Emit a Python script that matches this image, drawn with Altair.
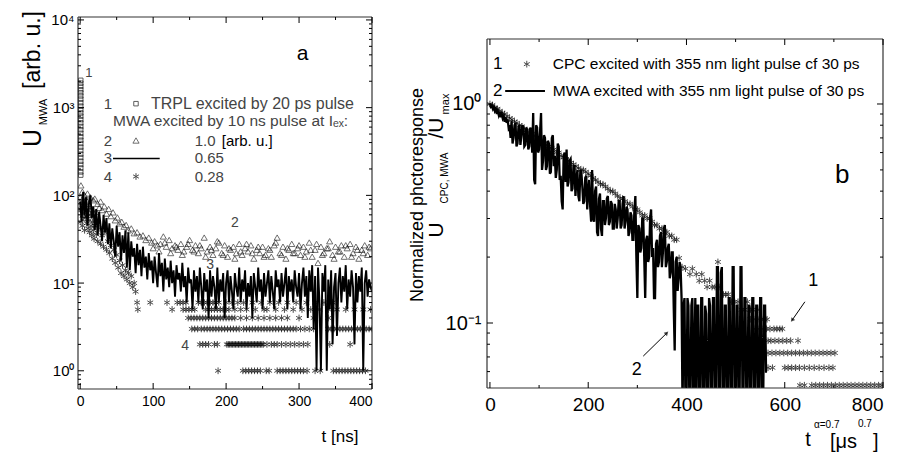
import altair as alt
import pandas as pd

FONT = "Liberation Sans"
INK = "black"

# ======================= DATA: panel a =======================
# 1: TRPL (squares), column at t ~ 0
a_sq_t = [0.8, 0.8, 0.8, 0.8, 0.8, 0.8, 0.8, 0.8, 0.8, 0.8, 0.8, 0.8, 0.8, 0.8, 0.8,
          0.8, 0.8, 0.8, 0.8, 0.8, 0.8, 0.8, 0.8, 0.8, 0.8, 0.8, 0.8, 0.8, 0.8]
a_sq_u = [2050, 1900, 1750, 1600, 1480, 1360, 1250, 1140, 1040, 950, 870, 800, 730, 670, 610,
          560, 510, 465, 425, 390, 355, 325, 295, 270, 245, 225, 205, 185, 170]

# 2: MWA, I=1.0 (triangles)
a_tri_t = [0, 1, 2, 3, 4, 5, 6, 7, 8, 9, 10,
           12, 14, 16, 18, 20, 22, 24, 26, 28, 30,
           33, 36, 39, 42, 45, 48, 51, 54, 57, 60, 63, 66,
           70, 74, 78, 82, 86, 90, 94, 98, 102, 106,
           110, 114, 118, 122, 126, 130, 134, 138, 142, 146,
           150, 154, 158, 162, 166, 170, 174, 178, 182, 186,
           190, 194, 198, 202, 206, 210, 214, 218, 222, 226,
           230, 234, 238, 242, 246, 250, 254, 258, 262, 266,
           270, 274, 278, 282, 286, 290, 294, 298, 302, 306,
           310, 314, 318, 322, 326, 330, 334, 338, 342, 346,
           350, 354, 358, 362, 366, 370, 374, 378, 382, 386,
           390, 394, 398]
a_tri_u = [95, 130, 70, 110, 60, 85, 100, 55, 90, 75, 105,
           80, 95, 70, 88, 92, 65, 80, 72, 85, 68,
           75, 62, 70, 58, 64, 52, 56, 48, 50, 44, 46, 40,
           42, 37, 38, 34, 35, 31, 33, 29, 30, 27,
           28, 34, 26, 31, 25, 27, 24, 28, 23, 26,
           31, 24, 27, 22, 25, 33, 23, 26, 21, 25,
           29, 22, 27, 20, 24, 26, 22, 28, 21, 25,
           23, 27, 19, 24, 22, 26, 21, 25, 20, 27,
           33, 22, 26, 19, 24, 28, 22, 25, 21, 26,
           23, 29, 20, 24, 17, 26, 22, 25, 30, 21,
           26, 23, 27, 20, 25, 28, 22, 26, 19, 24,
           27, 21, 25]
a_tri2_t = [100, 108, 116, 124, 132, 140, 148, 156, 164, 172, 180, 188, 196, 204, 212, 220, 228, 236, 244,
            252, 260, 268, 276, 284, 292, 300, 308, 316, 324, 332, 340, 348, 356, 364, 372, 380, 388, 396]
a_tri2_u = [25, 23, 29, 22, 26, 21, 28, 23, 27, 20, 24, 30, 21, 25, 19, 23, 28, 22, 26,
            20, 24, 29, 21, 25, 22, 27, 20, 24, 28, 21, 25, 19, 23, 27, 20, 24, 22, 26]

# 3: MWA, I=0.65 (line)
a_line_t = [0, 2, 4, 6, 8, 10, 12, 14, 16, 18,
            20, 22, 24, 26, 28, 30, 32, 34, 36, 38,
            40, 42, 44, 46, 48, 50, 52, 54, 56, 58,
            60, 62, 64, 66, 68, 70, 72, 74, 76, 78,
            80, 82, 84, 86, 88, 90, 92, 94, 96, 98,
            100, 102, 104, 106, 108, 110, 112, 114, 116, 118,
            120, 122, 124, 126, 128, 130, 132, 134, 136, 138,
            140, 142, 144, 146, 148, 150, 152, 154, 156, 158,
            160, 162, 164, 166, 168, 170, 172, 174, 176, 178,
            180, 182, 184, 186, 188, 190, 192, 194, 196, 198,
            200, 202, 204, 206, 208, 210, 212, 214, 216, 218,
            220, 222, 224, 226, 228, 230, 232, 234, 236, 238,
            240, 242, 244, 246, 248, 250, 252, 254, 256, 258,
            260, 262, 264, 266, 268, 270, 272, 274, 276, 278,
            280, 282, 284, 286, 288, 290, 292, 294, 296, 298,
            300, 302, 304, 306, 308, 310, 312, 314, 316, 318,
            320, 322, 324, 326, 328, 330, 332, 334, 336, 338,
            340, 342, 344, 346, 348, 350, 352, 354, 356, 358,
            360, 362, 364, 366, 368, 370, 372, 374, 376, 378,
            380, 382, 384, 386, 388, 390, 392, 394, 396, 398,
            400]
a_line_u = [85, 50, 110, 60, 95, 45, 80, 100, 55, 75,
            40, 70, 35, 65, 45, 30, 60, 38, 55, 28,
            48, 25, 42, 30, 20, 45, 26, 38, 18, 35,
            22, 40, 15, 38, 14, 30, 20, 25, 13, 28,
            16, 24, 12, 26, 15, 20, 11, 22, 14, 18,
            10, 20, 13, 9, 22, 12, 17, 8, 19, 11,
            15, 9, 18, 10, 14, 7, 16, 11, 13, 8,
            17, 9, 12, 6, 15, 10, 11, 5, 14, 8,
            12, 6, 15, 9, 5, 13, 8, 11, 4, 14,
            7, 12, 9, 5, 15, 6, 11, 8, 13, 4,
            10, 14, 6, 12, 8, 5, 13, 9, 7, 15,
            6, 11, 8, 14, 5, 10, 7, 12, 4, 13,
            9, 6, 15, 8, 11, 5, 13, 7, 10, 14,
            6, 12, 8, 5, 14, 9, 11, 6, 13, 7,
            10, 15, 5, 12, 8, 11, 6, 14, 9, 7,
            13, 5, 10, 15, 7, 12, 4, 14, 8, 16,
            3, 12, 1, 15, 6, 1, 13, 8, 16, 1,
            11, 5, 14, 2, 9, 13, 2.5, 10, 15, 6,
            12, 8, 16, 5, 11, 7, 14, 9, 2, 13,
            6, 12, 8, 15, 1, 10, 14, 7, 11, 9,
            8]

# 4: MWA, I=0.28 (stars): early decay part
a_star_t = [0, 1, 2, 3, 4, 5, 6, 7, 8, 9, 10, 11, 12, 13, 14, 15, 16, 17, 18, 19, 20,
            22, 24, 26, 28, 30, 32, 34, 36, 38, 40, 42, 44, 46, 48, 50, 52, 54, 56, 58,
            60, 62, 64, 66, 68, 70, 72, 74, 76, 78, 79, 96, 119, 126]
a_star_u = [70, 50, 85, 45, 60, 75, 40, 55, 65, 48, 58, 42, 52, 38, 60, 45, 35, 50, 40, 32, 45,
            36, 30, 42, 28, 35, 26, 38, 24, 30, 22, 27, 19, 24, 17, 21, 15, 18, 13, 16,
            12, 14, 11, 13, 10, 12, 9, 10, 8, 6, 5, 6, 6, 5]
# digitised tail: times of the stars on each signal level
a_lvl_values = [6, 5, 4, 3, 2, 1]
a_lvl6_t = [133, 137, 141, 145, 162, 166, 170, 174, 178, 182, 186, 190, 200, 208, 216, 224, 236, 248,
            260, 272, 284, 296, 310, 322, 334, 346]
a_lvl5_t = [141, 145, 149, 153, 157, 172, 176, 180, 184, 188, 192, 196, 200, 204, 212, 220, 228, 240,
            252, 256, 268, 280, 292, 304, 316, 328, 340, 352, 364, 376, 388, 398]
a_lvl4_t = [148, 152, 156, 160, 164, 168, 172, 176, 180, 184, 188, 192, 196, 200, 204, 208, 212, 220,
            228, 236, 244, 252, 260, 268, 276, 284, 300, 320, 340]
a_lvl3_t = [153, 157, 161, 166, 170, 174, 178, 182, 186, 190, 194, 198, 202, 206, 210, 214, 218, 224,
            228, 232, 236, 240, 244, 248, 252, 256, 260, 264, 268, 272, 276, 280, 284, 288, 292, 296,
            302, 308, 314, 320, 340, 344, 348, 352, 356, 360, 364, 368, 372, 376, 380, 384, 388, 392,
            396, 400]
a_lvl2_t = [164, 168, 172, 176, 184, 188, 201, 203, 205, 207, 209, 211, 213, 215, 217, 219, 221, 223,
            225, 227, 229, 231, 233, 235, 237, 239, 241, 243, 245, 247, 249, 251, 256, 262, 266, 270,
            276, 282, 288, 294, 300, 306, 312, 342, 370]
a_lvl1_t = [189, 223, 227, 231, 235, 239, 243, 247, 255, 259, 270, 274, 278, 282, 286, 290, 294, 298,
            302, 306, 311, 322, 329, 347, 351, 355, 359, 363, 367, 371, 375, 379, 383, 387, 391]

a_xmaj = [0, 100, 200, 300, 400]
a_xmin = [50, 150, 250, 350]
a_ymaj = [1, 10, 100, 1000, 10000]
a_ymin = [0.7, 0.8, 0.9, 2, 3, 4, 5, 6, 7, 8, 9, 20, 30, 40, 50, 60, 70, 80, 90,
          200, 300, 400, 500, 600, 700, 800, 900, 2000, 3000, 4000, 5000, 6000, 7000, 8000, 9000]

# ======================= DATA: panel b =======================
# 1: CPC (stars)
b_cpc_x = [0, 5, 10, 15, 20, 25, 30, 35, 40, 45, 50, 55, 60, 65, 70, 75, 80, 85, 90, 95,
           100, 105, 110, 115, 120, 125, 130, 135, 140, 145, 150, 155, 160, 165, 170, 175, 180, 185, 190, 195,
           200, 205, 210, 215, 220, 225, 230, 235, 240, 245, 250, 255, 260, 265, 270, 275, 280, 285, 290, 295,
           300, 305, 310, 315, 320, 325, 330, 335, 340, 345, 350, 355, 360, 365, 370, 375, 380]
b_cpc_y = [1.0, 0.99, 0.96, 0.95, 0.93, 0.91, 0.9, 0.88, 0.86, 0.85, 0.83, 0.82, 0.8, 0.79, 0.77, 0.76, 0.74, 0.73, 0.72, 0.7,
           0.69, 0.68, 0.66, 0.65, 0.64, 0.63, 0.62, 0.6, 0.6, 0.58, 0.57, 0.56, 0.55, 0.54, 0.53, 0.52, 0.51, 0.5, 0.5, 0.49,
           0.48, 0.47, 0.46, 0.45, 0.44, 0.43, 0.43, 0.42, 0.41, 0.4, 0.4, 0.39, 0.38, 0.37, 0.37, 0.36, 0.35, 0.35, 0.34, 0.33,
           0.33, 0.32, 0.31, 0.31, 0.3, 0.3, 0.29, 0.28, 0.28, 0.27, 0.27, 0.26, 0.26, 0.25, 0.25, 0.24, 0.24]
b_cpc_tail_x = [385, 391, 398, 407, 412, 420, 426, 431, 437, 442, 447, 452, 458, 464, 468, 475, 480, 485,
                492, 498, 505, 512, 518, 524, 530, 535, 545, 530, 537, 540, 548, 553, 558, 564,
                548, 556, 563, 570, 578, 584, 590, 595,
                566, 572, 580, 588, 596, 604, 612, 627,
                566, 574, 582, 590, 598, 606, 614, 622, 630, 638, 646, 654, 662, 670, 678, 686, 694, 702,
                566, 575, 600, 607, 614, 622, 630, 640, 650, 660, 670, 680, 690, 698,
                631, 640, 655, 663, 671, 679, 687, 695, 703, 711, 719, 727, 735, 743, 751, 759, 767, 775,
                783, 791, 798]
b_cpc_tail_y = [0.198, 0.18, 0.177, 0.167, 0.177, 0.167, 0.156, 0.167, 0.156, 0.146, 0.156, 0.146, 0.146, 0.19,
                0.146, 0.135, 0.135, 0.135, 0.125, 0.125, 0.125, 0.115, 0.115, 0.125, 0.115, 0.115, 0.115,
                0.104, 0.104, 0.094, 0.104, 0.104, 0.104, 0.104,
                0.094, 0.094, 0.094, 0.094, 0.094, 0.094, 0.094, 0.094,
                0.083, 0.083, 0.083, 0.083, 0.083, 0.083, 0.083, 0.083,
                0.073, 0.073, 0.073, 0.073, 0.073, 0.073, 0.073, 0.073, 0.073, 0.073, 0.073, 0.073, 0.073,
                0.073, 0.073, 0.073, 0.073, 0.073,
                0.0625, 0.0625, 0.0625, 0.0625, 0.0625, 0.0625, 0.0625, 0.0625, 0.0625, 0.0625, 0.0625,
                0.0625, 0.0625, 0.0625,
                0.052, 0.052, 0.052, 0.052, 0.052, 0.052, 0.052, 0.052, 0.052, 0.052, 0.052, 0.052, 0.052,
                0.052, 0.052, 0.052, 0.052, 0.052, 0.052, 0.052, 0.052]

# 2: MWA (line)
b_mwa_x = [0, 2, 4, 6, 8, 10, 12, 14, 16, 18, 20, 22, 24, 26, 28, 30, 32, 34, 36, 38,
           40, 42, 44, 46, 48, 50, 52, 54, 56, 58, 60, 62, 64, 66, 68, 70, 72, 74, 76, 78,
           80, 82, 84, 86, 88, 90, 92, 94, 96, 98, 100, 102, 104, 106, 108, 110, 112, 114, 116, 118,
           120, 122, 124, 126, 128, 130, 132, 134, 136, 138, 140, 142, 144, 146, 148, 150, 152, 154, 156, 158,
           160, 162, 164, 166, 168, 170, 172, 174, 176, 178, 180, 182, 184, 186, 188, 190, 192, 194, 196, 198,
           200, 202, 204, 206, 208, 210, 212, 214, 216, 218, 220, 222, 224, 226, 228, 230, 232, 234, 236, 238,
           240, 242, 244, 246, 248, 250, 252, 254, 256, 258, 260, 262, 264, 266, 268, 270, 272, 274, 276, 278,
           280, 282, 284, 286, 288, 290, 292, 294, 296, 298, 300, 302, 304, 306, 308, 310, 312, 314, 316, 318,
           320, 322, 324, 326, 328, 330, 332, 334, 336, 338, 340, 342, 344, 346, 348, 350, 352, 354, 356, 358,
           360, 362, 364, 366, 368, 370, 372, 374, 376, 378, 380, 382, 384, 386, 388, 390, 392, 394, 396, 398,
           400, 402, 404, 406, 408, 410, 412, 414, 416, 418, 420, 422, 424, 426, 428, 430, 432, 434, 436, 438,
           440, 442, 444, 446, 448, 450, 452, 454, 456, 458, 460, 462, 464, 466, 468, 470, 472, 474, 476, 478,
           480, 482, 484, 486, 488, 490, 492, 494, 496, 498, 500, 502, 504, 506, 508, 510, 512, 514, 516, 518,
           520, 522, 524, 526, 528, 530, 532, 534, 536, 538, 540, 542, 544, 546, 548, 550, 552, 554, 556, 558,
           560, 562, 564]
b_mwa_y = [1.0, 0.97, 0.98, 0.95, 0.97, 0.93, 0.95, 0.9, 0.93, 0.89,
           0.92, 0.87, 0.9, 0.86, 0.88, 0.83, 0.87, 0.82, 0.85, 0.78,
           0.8, 0.7, 0.84, 0.66, 0.7, 0.8, 0.82, 0.64, 0.66, 0.78,
           0.8, 0.65, 0.72, 0.8, 0.78, 0.64, 0.65, 0.78, 0.76, 0.62,
           0.64, 0.78, 0.75, 0.6, 0.91, 0.45, 0.43, 0.8, 0.78, 0.6,
           0.62, 0.75, 0.91, 0.5, 0.55, 0.72, 0.7, 0.5, 0.52, 0.68,
           0.66, 0.48, 0.49, 0.7, 0.72, 0.52, 0.58, 0.46, 0.5, 0.66,
           0.64, 0.45, 0.47, 0.36, 0.33, 0.58, 0.6, 0.44, 0.62, 0.42,
           0.44, 0.55, 0.56, 0.4, 0.41, 0.52, 0.52, 0.38, 0.45, 0.5,
           0.38, 0.36, 0.5, 0.49, 0.42, 0.35, 0.36, 0.46, 0.47, 0.33,
           0.4, 0.45, 0.34, 0.29, 0.5, 0.3, 0.29, 0.4, 0.42, 0.26,
           0.25, 0.37, 0.39, 0.27, 0.25, 0.36, 0.36, 0.28, 0.3, 0.37,
           0.38, 0.28, 0.29, 0.36, 0.35, 0.27, 0.27, 0.35, 0.33, 0.27,
           0.3, 0.36, 0.36, 0.27, 0.28, 0.35, 0.38, 0.27, 0.29, 0.34,
           0.33, 0.25, 0.26, 0.32, 0.31, 0.24, 0.24, 0.33, 0.38, 0.2,
           0.13, 0.28, 0.27, 0.21, 0.22, 0.3, 0.3, 0.2, 0.13, 0.24,
           0.25, 0.19, 0.2, 0.3, 0.33, 0.2, 0.22, 0.13, 0.13, 0.23,
           0.24, 0.18, 0.19, 0.25, 0.26, 0.18, 0.21, 0.27, 0.28, 0.18,
           0.19, 0.22, 0.23, 0.16, 0.17, 0.21, 0.21, 0.12, 0.075, 0.19,
           0.2, 0.14, 0.16, 0.19, 0.18, 0.13, 0.04, 0.12, 0.13, 0.04,
           0.04, 0.13, 0.12, 0.04, 0.04, 0.12, 0.13, 0.04, 0.07, 0.13,
           0.04, 0.12, 0.12, 0.04, 0.04, 0.13, 0.13, 0.04, 0.04, 0.12,
           0.11, 0.04, 0.04, 0.13, 0.12, 0.045, 0.045, 0.13, 0.13, 0.04,
           0.04, 0.18, 0.18, 0.04, 0.04, 0.17, 0.18, 0.04, 0.04, 0.12,
           0.12, 0.04, 0.04, 0.13, 0.13, 0.04, 0.04, 0.18, 0.18, 0.04,
           0.04, 0.12, 0.12, 0.04, 0.04, 0.18, 0.18, 0.045, 0.045, 0.13,
           0.13, 0.04, 0.04, 0.12, 0.12, 0.04, 0.04, 0.13, 0.13, 0.045,
           0.045, 0.12, 0.12, 0.04, 0.04, 0.13, 0.13, 0.04, 0.04, 0.12,
           0.12, 0.06, 0.06]

b_xmaj = [0, 200, 400, 600, 800]
b_xmin = [100, 300, 500, 700]
b_ymaj = [0.1, 1]
b_ymin = [0.06, 0.07, 0.08, 0.09, 0.2, 0.3, 0.4, 0.5, 0.6, 0.7, 0.8, 0.9]

# ======================= CHART =======================
WA, HA = 294, 372          # panel a plot area
WB, HB = 396, 371          # panel b view (frame starts FB px below its top)
FB = 22
STAR = "M0,-1L0,1M-0.87,-0.5L0.87,0.5M-0.87,0.5L0.87,-0.5"
FRAME = "#333333"

xa_scale = alt.Scale(domain=[-3, 400], nice=False, zero=False)
ya_scale = alt.Scale(type="log", domain=[0.62, 10800], nice=False)
xb_scale = alt.Scale(domain=[-6, 800], nice=False, zero=False)
yb_scale = alt.Scale(type="log", domain=[0.0505, 2.4955], nice=False)

axis_xa = alt.Axis(values=a_xmaj, ticks=False, domain=False, grid=False, labelFont=FONT,
                   labelFontSize=14, labelPadding=5, labelColor=INK, title=None)
axis_ya = alt.Axis(values=a_ymaj, ticks=False, domain=False, grid=False, labelFont=FONT,
                   labelFontSize=15, labelPadding=4, labelColor=INK, title=None, labelOverlap=False,
                   labelExpr="datum.value < 5 ? '10⁰' : datum.value < 50 ? '10¹' : datum.value < 500 ? '10²' : datum.value < 5000 ? '10³' : '10⁴'")
axis_xb = alt.Axis(values=b_xmaj, ticks=False, domain=False, grid=False, labelFont=FONT,
                   labelFontSize=19, labelPadding=7, labelColor=INK, title=None)
axis_yb = alt.Axis(values=b_ymaj, ticks=False, domain=False, grid=False, labelFont=FONT,
                   labelFontSize=20, labelPadding=6, labelColor=INK, title=None, labelOverlap=False,
                   labelExpr="datum.value < 0.5 ? '10⁻¹' : '10⁰'")


def XA(f):
    return alt.X(f, type="quantitative", scale=xa_scale, axis=axis_xa)


def YA(f):
    return alt.Y(f, type="quantitative", scale=ya_scale, axis=axis_ya)


def XB(f):
    return alt.X(f, type="quantitative", scale=xb_scale, axis=axis_xb)


def YB(f):
    return alt.Y(f, type="quantitative", scale=yb_scale, axis=axis_yb)


ONE = pd.DataFrame({"k": [0]})


def ptext(s, px, py, size, angle=0, align="center", baseline="middle", color=INK, opacity=1.0):
    kw = dict(align=align, baseline=baseline, fontSize=size, font=FONT, color=color, opacity=opacity)
    if angle:
        kw["angle"] = angle
    return alt.Chart(pd.DataFrame({"s": [s]})).mark_text(**kw).encode(
        x=alt.value(px), y=alt.value(py), text="s:N")


def dtext(rows, X, Y, align):
    df = pd.DataFrame(rows, columns=["s", "x", "y", "fs", "c"])
    return alt.Chart(df).mark_text(align=align, baseline="middle", font=FONT).encode(
        x=X("x"), y=Y("y"), text="s:N",
        size=alt.Size("fs:Q", scale=None), color=alt.Color("c:N", scale=None))


def frame_layers(W, top, H):
    r = dict(color=FRAME, strokeWidth=1.2)
    return [
        alt.Chart(ONE).mark_rule(**r).encode(x=alt.value(0), x2=alt.value(W), y=alt.value(top)),
        alt.Chart(ONE).mark_rule(**r).encode(x=alt.value(0), x2=alt.value(W), y=alt.value(H)),
        alt.Chart(ONE).mark_rule(**r).encode(x=alt.value(0), y=alt.value(top), y2=alt.value(H)),
        alt.Chart(ONE).mark_rule(**r).encode(x=alt.value(W), y=alt.value(top), y2=alt.value(H)),
    ]


def tick_layers(X, Y, xmaj, xmin, ymaj, ymin, W, top, H):
    out = []
    for vals, L in ((xmaj, 6), (xmin, 3)):
        d = pd.DataFrame({"v": vals})
        out.append(alt.Chart(d).mark_rule(color=INK, strokeWidth=1).encode(
            x=X("v"), y=alt.value(H), y2=alt.value(H - L)))
        out.append(alt.Chart(d).mark_rule(color=INK, strokeWidth=1).encode(
            x=X("v"), y=alt.value(top), y2=alt.value(top + L)))
    for vals, L in ((ymaj, 6), (ymin, 3)):
        d = pd.DataFrame({"v": vals})
        out.append(alt.Chart(d).mark_rule(color=INK, strokeWidth=1).encode(
            y=Y("v"), x=alt.value(0), x2=alt.value(L)))
        out.append(alt.Chart(d).mark_rule(color=INK, strokeWidth=1).encode(
            y=Y("v"), x=alt.value(W), x2=alt.value(W - L)))
    return out


# ---------- panel a ----------
df_line_a = pd.DataFrame({"t": a_line_t, "u": a_line_u})
df_star_a = pd.DataFrame({
    "t": a_star_t + a_lvl6_t + a_lvl5_t + a_lvl4_t + a_lvl3_t + a_lvl2_t + a_lvl1_t,
    "u": a_star_u + [a_lvl_values[0]] * len(a_lvl6_t) + [a_lvl_values[1]] * len(a_lvl5_t)
         + [a_lvl_values[2]] * len(a_lvl4_t) + [a_lvl_values[3]] * len(a_lvl3_t)
         + [a_lvl_values[4]] * len(a_lvl2_t) + [a_lvl_values[5]] * len(a_lvl1_t)})
df_tri_a = pd.DataFrame({"t": a_tri_t + a_tri2_t, "u": a_tri_u + a_tri2_u})
df_sq_a = pd.DataFrame({"t": a_sq_t, "u": a_sq_u})

layers_a = [
    alt.Chart(df_line_a).mark_line(color=INK, strokeWidth=1.9, clip=True).encode(x=XA("t"), y=YA("u"), order="t:Q"),
    alt.Chart(df_star_a).mark_point(shape=STAR, size=45, filled=False, color=INK, strokeWidth=1, clip=True).encode(x=XA("t"), y=YA("u")),
    alt.Chart(df_tri_a).mark_point(shape="triangle-up", size=38, filled=False, color=INK, strokeWidth=0.8, clip=True).encode(x=XA("t"), y=YA("u")),
    alt.Chart(df_sq_a).mark_point(shape="square", size=20, filled=False, color=INK, strokeWidth=0.9, clip=True).encode(x=XA("t"), y=YA("u")),
]
layers_a += frame_layers(WA, 0, HA)
layers_a += tick_layers(XA, YA, a_xmaj, a_xmin, a_ymaj, a_ymin, WA, 0, HA)

layers_a += [
    alt.Chart(pd.DataFrame({"x": [76.5], "y": [1110]})).mark_point(shape="square", size=20, filled=False, color=INK, strokeWidth=0.9).encode(x=XA("x"), y=YA("y")),
    alt.Chart(pd.DataFrame({"x": [76.5], "y": [422]})).mark_point(shape="triangle-up", size=38, filled=False, color=INK, strokeWidth=0.8).encode(x=XA("x"), y=YA("y")),
    alt.Chart(pd.DataFrame({"x": [76.5], "y": [164]})).mark_point(shape=STAR, size=45, filled=False, color=INK, strokeWidth=1).encode(x=XA("x"), y=YA("y")),
    alt.Chart(pd.DataFrame({"x": [45], "x2": [109], "y": [264]})).mark_rule(color=INK, strokeWidth=1.5).encode(x=XA("x"), x2="x2:Q", y=YA("y")),
]
G = "#444444"
layers_a += [
    dtext([["1", 38, 1110, 15, G], ["2", 38, 422, 15, G], ["3", 38, 264, 15, G], ["4", 38, 164, 15, G],
           ["a", 305, 4100, 21, INK], ["1", 12, 2500, 13, G], ["2", 212, 49, 14, G],
           ["3", 178, 16, 14, G], ["4", 144, 1.9, 14, G]], XA, YA, "center"),
    dtext([["TRPL excited by 20 ps pulse", 97, 1110, 16, G],
           ["MWA excited by 10 ns pulse at Iₑₓ:", 45, 712, 15.5, G],
           ["1.0", 157, 422, 15, G], ["0.65", 157, 264, 15, G], ["0.28", 157, 164, 15, G],
           ["[arb. u.]", 194, 422, 15, INK]], XA, YA, "left"),
]
layers_a += [
    ptext("[arb. u.]", -45, 33, 23, angle=270),
    ptext("MWA", -34, 95, 11, angle=270),
    ptext("U", -45, 121, 25, angle=270),
    ptext("t [ns]", 262, 420, 17),
    ptext(".", -70, -9, 4, align="left", baseline="top", opacity=0),
    ptext(".", WA + 16, 0, 4, align="right", baseline="top", opacity=0),
]
panel_a = alt.layer(*layers_a).properties(width=WA, height=HA)

# ---------- panel b ----------
df_cpc = pd.DataFrame({"x": b_cpc_x + b_cpc_tail_x, "y": b_cpc_y + b_cpc_tail_y})
df_mwa = pd.DataFrame({"x": b_mwa_x, "y": b_mwa_y})

layers_b = [
    alt.Chart(df_cpc).mark_point(shape=STAR, size=45, filled=False, color=INK, strokeWidth=1, clip=True).encode(x=XB("x"), y=YB("y")),
    alt.Chart(df_mwa).mark_line(color=INK, strokeWidth=2.3, clip=True).encode(x=XB("x"), y=YB("y"), order="x:Q"),
]
layers_b += frame_layers(WB, FB, HB)
layers_b += tick_layers(XB, YB, b_xmaj, b_xmin, b_ymaj, b_ymin, WB, FB, HB)
layers_b += [
    alt.Chart(pd.DataFrame({"x": [75], "y": [1.52]})).mark_point(shape=STAR, size=45, filled=False, color=INK, strokeWidth=1).encode(x=XB("x"), y=YB("y")),
    alt.Chart(pd.DataFrame({"x": [31], "x2": [112], "y": [1.146]})).mark_rule(color=INK, strokeWidth=2).encode(x=XB("x"), x2="x2:Q", y=YB("y")),
    alt.Chart(pd.DataFrame({"x": [641, 312], "x2": [615, 360], "y": [0.125, 0.0706], "y2": [0.103, 0.090]})).mark_rule(color=INK, strokeWidth=1).encode(
        x=XB("x"), x2="x2:Q", y=YB("y"), y2="y2:Q"),
    alt.Chart(pd.DataFrame({"x": [615], "y": [0.103]})).mark_point(shape="triangle-up", size=22, filled=True, color=INK, angle=216).encode(x=XB("x"), y=YB("y")),
    alt.Chart(pd.DataFrame({"x": [360], "y": [0.090]})).mark_point(shape="triangle-up", size=22, filled=True, color=INK, angle=46).encode(x=XB("x"), y=YB("y")),
    dtext([["1", 16, 1.52, 17, INK], ["2", 16, 1.146, 17, INK], ["b", 717, 0.474, 26, INK],
           ["1", 658, 0.156, 18, INK], ["2", 299, 0.0608, 18, INK]], XB, YB, "center"),
    dtext([["CPC excited with 355 nm light pulse cf 30 ps", 128, 1.52, 15.5, INK],
           ["MWA excited with 355 nm light pulse of 30 ps", 128, 1.146, 15.5, INK]], XB, YB, "left"),
]
layers_b += [
    ptext("Normalized phctoresponse", -69, 178, 18, angle=270),
    ptext("U", -50, 213, 21, angle=270),
    ptext("CPC, MWA", -42, 161, 10, angle=270),
    ptext("/U", -50, 111, 21, angle=270),
    ptext("max", -41, 87, 11, angle=270),
    ptext("t", 321, 423, 20),
    ptext("α=0.7", 327, 408, 10, align="left"),
    ptext("[μs", 343, 425, 20, align="left"),
    ptext("0.7", 371, 407, 10, align="left"),
    ptext("]", 386, 425, 20, align="left"),
    ptext(".", -80, 0, 4, align="left", baseline="top", opacity=0),
]
panel_b = alt.layer(*layers_b).properties(width=WB, height=HB)

chart = alt.hconcat(panel_a, panel_b, spacing=19).properties(padding=0).configure(
    font=FONT).configure_view(stroke="transparent", strokeWidth=0)

chart.save("out.html", embed_options={"renderer": "svg", "actions": False})
